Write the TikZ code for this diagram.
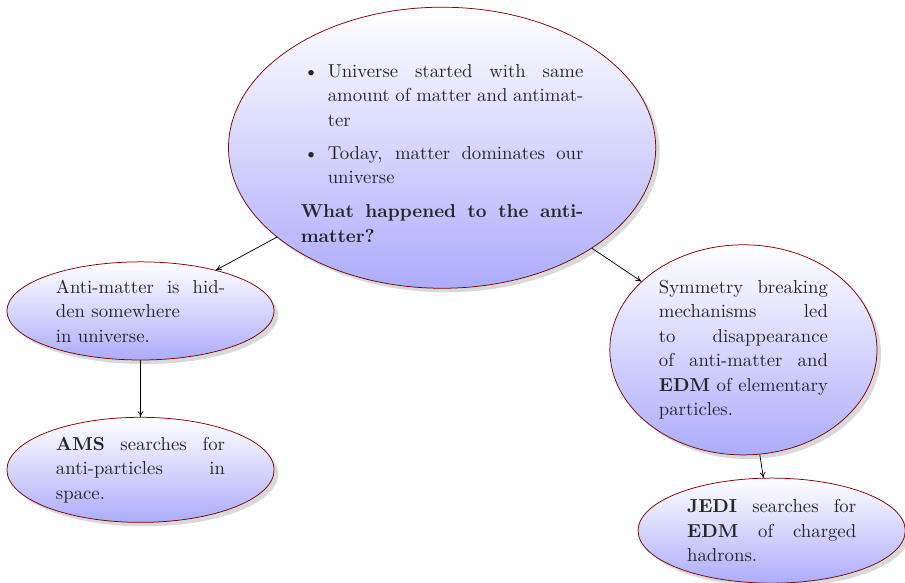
\documentclass[tikz,border=0pt]{standalone}
\usepackage{amsmath}
\usepackage{enumitem}
\usetikzlibrary{shapes.geometric, arrows.meta, positioning, shadows}
\definecolor{edmred}{RGB}{128,0,0}
\definecolor{edmblue}{RGB}{172,172,252}
\linespread{1.09}

\tikzset{
  bubble/.style={ellipse, draw=edmred, thin, top color=white, bottom color=edmblue,
    drop shadow={opacity=0.3}, inner sep=0pt, text width=3.17cm, align=justify,
    text=black!85, minimum width=5.01cm, minimum height=1.97cm},
  link/.style={-{To[length=3pt,width=3pt]}, thin}
}

\begin{document}
\begin{tikzpicture}
  \useasboundingbox (0,0) rectangle (16.97,-10.93);
  % question in the middle
  \node[bubble, text width=5.3cm, minimum width=8.01cm, minimum height=5.27cm] (question) at (8.29,-2.77) {
    \begin{itemize}[leftmargin=1.44em, itemsep=4.5pt, parsep=0pt, topsep=0pt]
      \item Universe started with same amount of matter and antimatter
      \item Today, matter dominates our universe
    \end{itemize}
    \vspace{5pt}
    \textbf{What happened to the anti-matter?}};
  % left branch
  \node[bubble, minimum height=1.84cm] (hidden) at (2.635,-5.83)
    {Anti-matter is hidden somewhere\\ in universe.};
  \node[bubble] (ams) at (2.635,-8.81)
    {\textbf{AMS} searches for anti-particles in space.};
  % right branch
  \node[bubble, minimum height=3.94cm] (symmetry) at (13.94,-6.56)
    {Symmetry breaking mechanisms led\linebreak to disappearance\linebreak of anti-matter and \textbf{EDM} of elementary particles.};
  \node[bubble] (jedi) at (14.47,-9.95)
    {\textbf{JEDI} searches for \textbf{EDM} of charged hadrons.};

  \draw[link] (question) -- (hidden);
  \draw[link] (question) -- (symmetry);
  \draw[link] (hidden) -- (ams);
  \draw[link] (symmetry) -- (jedi);
\end{tikzpicture}
\end{document}
